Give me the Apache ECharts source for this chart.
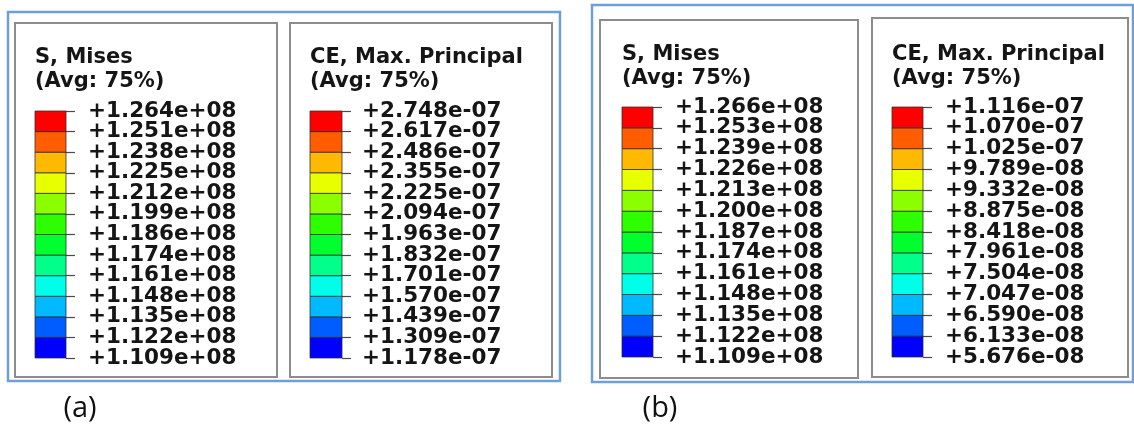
<!DOCTYPE html>
<html>
<head>
<meta charset="utf-8">
<script src="https://cdn.jsdelivr.net/npm/echarts@6/dist/echarts.min.js"></script>
<style>
  html, body { margin: 0; padding: 0; background: #ffffff; }
  #chart { width: 1134px; height: 430px; }
</style>
</head>
<body>
<div id="chart"></div>
<script>
// Contour legend values, listed from the bottom band boundary upward
const misesA = [1.109e8, 1.122e8, 1.135e8, 1.148e8, 1.161e8, 1.174e8, 1.186e8,
                1.199e8, 1.212e8, 1.225e8, 1.238e8, 1.251e8, 1.264e8];
const strainA = [1.178e-7, 1.309e-7, 1.439e-7, 1.570e-7, 1.701e-7, 1.832e-7, 1.963e-7,
                 2.094e-7, 2.225e-7, 2.355e-7, 2.486e-7, 2.617e-7, 2.748e-7];
const misesB = [1.109e8, 1.122e8, 1.135e8, 1.148e8, 1.161e8, 1.174e8, 1.187e8,
                1.200e8, 1.213e8, 1.226e8, 1.239e8, 1.253e8, 1.266e8];
const strainB = [5.676e-8, 6.133e-8, 6.590e-8, 7.047e-8, 7.504e-8, 7.961e-8, 8.418e-8,
                 8.875e-8, 9.332e-8, 9.789e-8, 1.025e-7, 1.070e-7, 1.116e-7];

// Legend headings
const titleMises = ['S, Mises', '(Avg: 75%)'];
const titleStrain = ['CE, Max. Principal', '(Avg: 75%)'];
const caption = ['(a)', '(b)'];

// Spectrum for the 12 contour intervals, bottom (blue) to top (red)
const bandColors = ['#0000ff', '#005dff', '#00b9ff', '#00ffe8', '#00ff8b', '#00ff2e',
                    '#2eff00', '#8bff00', '#e8ff00', '#ffb900', '#ff5d00', '#ff0000'];

// "+1.264e+08" style
function sci(v) {
  const s = v.toExponential(3);
  const m = s.match(/^(-?[\d.]+)e([+-])(\d+)$/);
  const mant = m[1].startsWith('-') ? m[1] : '+' + m[1];
  return mant + 'e' + m[2] + m[3].padStart(2, '0');
}

const TEXT = '#151515';
const FONT = 'DejaVu Sans';

// Layout of each colour bar and its heading
const panels = [
  { vals: misesA,  title: titleMises,  left: 35,  top: 111, width: 31, height: 247, margin: 22, tx: 35,  ty: 58 },
  { vals: strainA, title: titleStrain, left: 310, top: 111, width: 32, height: 247, margin: 20, tx: 310, ty: 58 },
  { vals: misesB,  title: titleMises,  left: 622, top: 107, width: 31, height: 250, margin: 22, tx: 622, ty: 55 },
  { vals: strainB, title: titleStrain, left: 892, top: 107, width: 31, height: 250, margin: 22, tx: 892, ty: 55 }
];

const grid = [], xAxis = [], yAxis = [], series = [];
panels.forEach((p, k) => {
  grid.push({ left: p.left, top: p.top, width: p.width, height: p.height });
  xAxis.push({ gridIndex: k, type: 'value', min: 0, max: 1, show: false });
  // band boundaries: one category per contour level, ticks sit on the levels
  yAxis.push({
    gridIndex: k, type: 'category', position: 'right', boundaryGap: false,
    data: p.vals.map(sci),
    axisLine: { show: true, onZero: false, lineStyle: { color: 'rgba(0,0,0,0)' } },
    axisTick: { show: true, inside: false, interval: 0, length: 9, lineStyle: { color: '#4a4a4a', width: 1.2 } },
    splitLine: { show: false },
    axisLabel: {
      interval: 0, margin: p.margin, color: TEXT, fontFamily: FONT, fontWeight: 'bold', fontSize: 21.5
    }
  });
  series.push({
    type: 'custom', xAxisIndex: k, yAxisIndex: k, silent: true,
    data: bandColors.map((c, i) => [i]),
    renderItem: (params, api) => {
      const i = api.value(0);
      const a = api.coord([0, i + 1]);
      const b = api.coord([1, i]);
      return {
        type: 'rect',
        shape: { x: a[0], y: a[1], width: b[0] - a[0], height: b[1] - a[1] },
        style: { fill: bandColors[i], stroke: 'rgba(40,40,40,0.75)', lineWidth: 1 }
      };
    }
  });
});

// Frames around each figure and each legend box
const frames = [
  { x: 8, y: 12, w: 552, h: 369, c: '#6e9fd6', lw: 2.5 },
  { x: 592, y: 5, w: 541, h: 377, c: '#6e9fd6', lw: 2.5 },
  { x: 15, y: 23, w: 262, h: 354, c: '#8c8c8c', lw: 2 },
  { x: 290, y: 23, w: 262, h: 354, c: '#8c8c8c', lw: 2 },
  { x: 600, y: 20, w: 258, h: 358, c: '#8c8c8c', lw: 2 },
  { x: 872, y: 18, w: 256, h: 359, c: '#8c8c8c', lw: 2 }
];
const graphic = frames.map(f => ({
  type: 'rect', z: -10,
  shape: { x: f.x, y: f.y, width: f.w, height: f.h },
  style: { fill: 'none', stroke: f.c, lineWidth: f.lw }
}));
panels.forEach(p => {
  p.title.forEach((t, j) => graphic.push({
    type: 'text', x: p.tx, y: p.ty + j * 24,
    style: { text: t, fill: TEXT, font: 'bold 21px "' + FONT + '"', verticalAlign: 'middle', align: 'left' }
  }));
});
[80, 660].forEach((cx, j) => graphic.push({
  type: 'text', x: cx, y: 409,
  style: { text: caption[j], fill: '#111', font: '29px "Open Sans"', align: 'center', verticalAlign: 'middle' }
}));

const chart = echarts.init(document.getElementById('chart'), null, { renderer: 'canvas' });
chart.setOption({
  backgroundColor: '#ffffff',
  animation: false,
  grid, xAxis, yAxis, series, graphic
});
</script>
</body>
</html>
